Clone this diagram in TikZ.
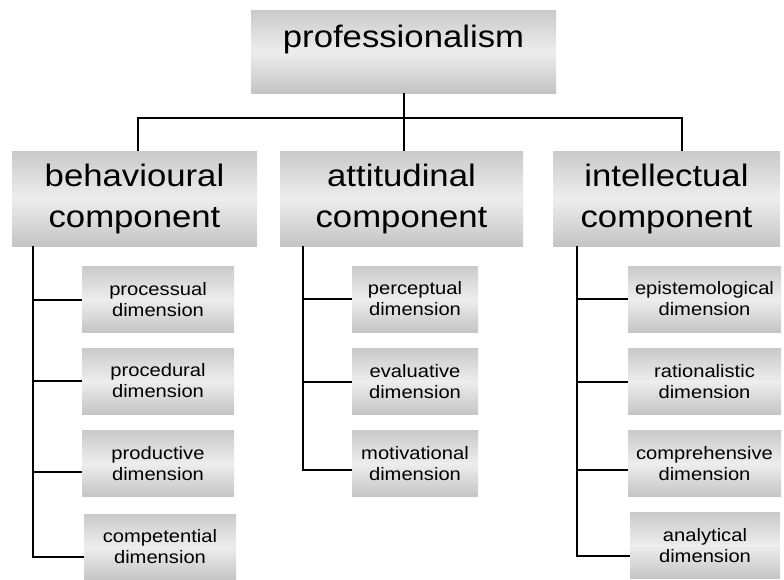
\documentclass[tikz,border=0pt]{standalone}
\usepackage{fontspec}
\setmainfont{Liberation Sans}[FakeStretch=1.12]
\usepackage{tikz}
\usetikzlibrary{positioning}
\tikzset{
  shadebox/.style={rectangle, inner sep=0pt, top color=black!21, bottom color=black!23, middle color=black!7},
  topbox/.style={shadebox, minimum width=305pt, minimum height=83pt, font=\fontsize{31}{36}\selectfont, text depth=30pt},
  compbox/.style={shadebox, minimum width=#1, minimum height=95pt, align=center, font=\fontsize{31}{41}\selectfont},
  dimbox/.style={shadebox, minimum width=#1, minimum height=66pt, align=center, font=\fontsize{18}{21}\selectfont},
  link/.style={draw=black, line width=2pt}
}

\begin{document}
\begin{tikzpicture}[x=1pt, y=-1pt]
  \useasboundingbox (0,0) rectangle (784,579);
  % top level
  \node[topbox] (top) at (403.5,51.5) {professionalism};
  % components
  \node[compbox=245pt] (bc) at (134.5,198.5) {behavioural\\component};
  \node[compbox=243pt] (ac) at (401.5,198.5) {attitudinal\\component};
  \node[compbox=227pt] (ic) at (666.5,198.5) {intellectual\\component};
  % dimensions
  \node[dimbox=152pt] (b1) at (158,299.5) {processual\\dimension};
  \node[dimbox=152pt] (b2) at (158,381) {procedural\\dimension};
  \node[dimbox=152pt] (b3) at (158,463.5) {productive\\dimension};
  \node[dimbox=152pt] (b4) at (160,547) {competential\\dimension};
  \node[dimbox=126pt] (a1) at (415,299) {perceptual\\dimension};
  \node[dimbox=126pt] (a2) at (415,381.5) {evaluative\\dimension};
  \node[dimbox=126pt] (a3) at (415,463.5) {motivational\\dimension};
  \node[dimbox=153pt] (i1) at (704.5,299) {epistemological\\dimension};
  \node[dimbox=153pt] (i2) at (704.5,381.5) {rationalistic\\dimension};
  \node[dimbox=153pt] (i3) at (704.5,463.5) {comprehensive\\dimension};
  \node[dimbox=150pt] (i4) at (705,545.5) {analytical\\dimension};
  \coordinate (bj) at (138,118);
  \coordinate (ij) at (682,118);
  \coordinate (bt) at (33,557);
  \coordinate (at) at (303,470);
  \coordinate (it) at (577,556);
  \coordinate (b3e) at ([yshift=-8.5pt]b3.west);
  \coordinate (b4e) at ([yshift=-10pt]b4.west);
  \coordinate (a3e) at ([yshift=-6.5pt]a3.west);
  \coordinate (i3e) at ([yshift=-6.5pt]i3.west);
  \coordinate (i4e) at ([yshift=-10.5pt]i4.west);
  \draw[link] (top.south) -- (top.south |- bj);
  \draw[link] (bc.north -| bj) -- (bj) -- (ij) -- (ic.north -| ij);
  \draw[link] (top.south |- bj) -- (top.south |- ac.north);
  % trunks and branches
  \draw[link] (bc.south -| bt) -- (bt) -- (b4e);
  \draw[link] (bt |- b1.west) -- (b1.west);
  \draw[link] (bt |- b2.west) -- (b2.west);
  \draw[link] (bt |- b3e) -- (b3e);
  \draw[link] (ac.south -| at) -- (at) -- (a3e);
  \draw[link] (at |- a1.west) -- (a1.west);
  \draw[link] (at |- a2.west) -- (a2.west);
  \draw[link] (ic.south -| it) -- (it) -- (i4e);
  \draw[link] (it |- i1.west) -- (i1.west);
  \draw[link] (it |- i2.west) -- (i2.west);
  \draw[link] (it |- i3e) -- (i3e);
\end{tikzpicture}
\end{document}
